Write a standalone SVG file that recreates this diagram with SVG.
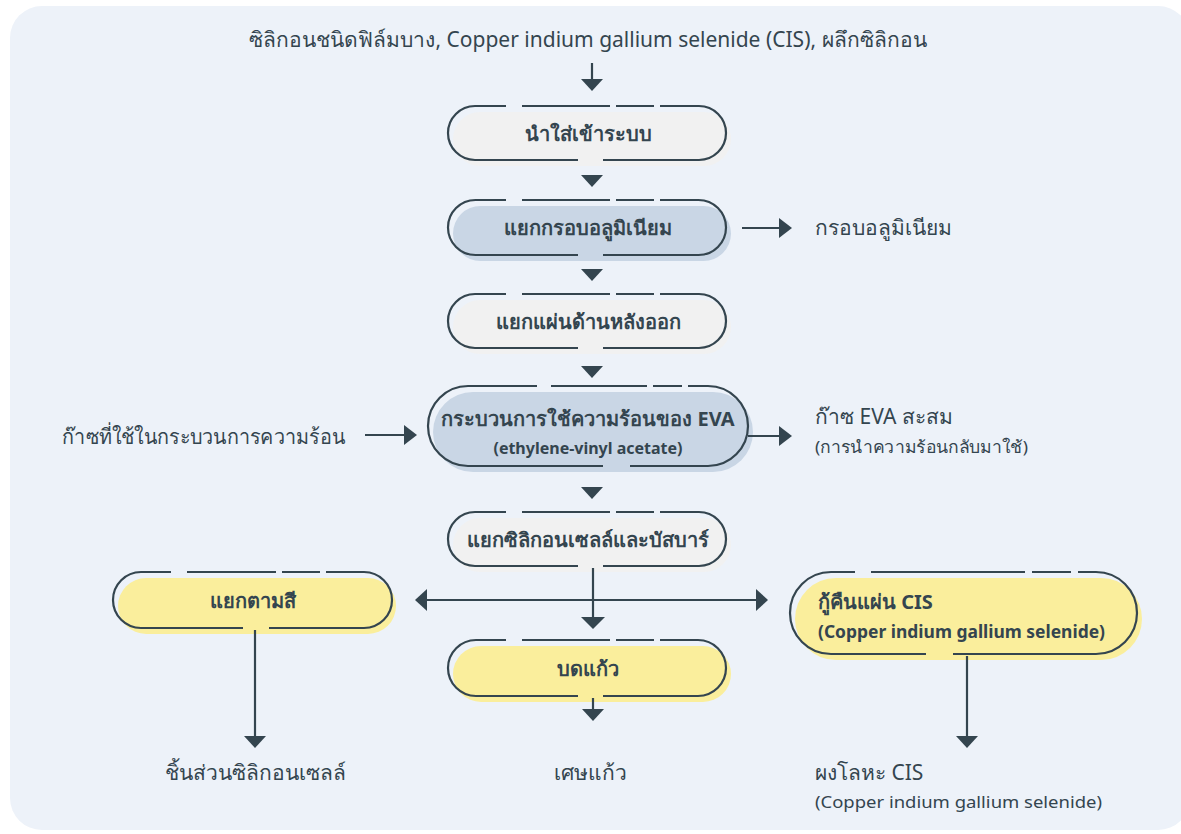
<svg xmlns="http://www.w3.org/2000/svg" width="1181" height="834" viewBox="0 0 1181 834">
<style>
.txt{font-family:"Noto Sans","Liberation Sans",sans-serif;fill:#34454F}
.lbl{font-size:21px}
.sub{font-size:17px}
.nt{font-size:20px;font-weight:bold;text-anchor:middle}
.ns{font-size:16px;font-weight:bold;text-anchor:middle}
.ol{fill:none;stroke:#34454F;stroke-width:2.2;stroke-linecap:butt}
.line{fill:none;stroke:#34454F;stroke-width:2.2}
.head{fill:#34454F}
.grey{fill:#F1F1F1}
.blue{fill:#C9D6E5}
.yel{fill:#FAEE9C}
</style>
<rect x="0" y="0" width="1181" height="834" fill="#FFFFFF"/>
<rect x="10" y="6" width="1180" height="824" rx="32" fill="#EDF2F9"/>

<text class="txt lbl" x="588" y="47" text-anchor="middle">ซิลิกอนชนิดฟิล์มบาง, Copper indium gallium selenide (CIS), ผลึกซิลิกอน</text>

<g id="n1">
<rect class="grey" x="453" y="112" width="278" height="54" rx="27"/>
<path class="ol" d="M506,106 H475 A27,27 0 0 0 475,160 H578 M603,160 H699 A27,27 0 0 0 699,106 H660 M654,106 H616 M610,106 H522"/>
<text class="txt nt" x="588" y="141">นำใส่เข้าระบบ</text>
</g>
<g id="n2">
<rect class="blue" x="453" y="206" width="278" height="55" rx="27.5"/>
<path class="ol" d="M506,200 H475.5 A27.5,27.5 0 0 0 475.5,255 H578 M603,255 H698.5 A27.5,27.5 0 0 0 698.5,200 H660 M654,200 H616 M610,200 H522"/>
<text class="txt nt" x="588" y="235">แยกกรอบอลูมิเนียม</text>
</g>
<g id="n3">
<rect class="grey" x="453" y="300" width="278" height="54" rx="27"/>
<path class="ol" d="M506,294 H475 A27,27 0 0 0 475,348 H578 M603,348 H699 A27,27 0 0 0 699,294 H660 M654,294 H616 M610,294 H522"/>
<text class="txt nt" x="588" y="329">แยกแผ่นด้านหลังออก</text>
</g>
<g id="n4">
<rect class="blue" x="433" y="392" width="320" height="80" rx="40"/>
<path class="ol" d="M537,386 H468 A40,40 0 0 0 468,466 H603 M630,466 H708 A40,40 0 0 0 708,386 H688 M682,386 H653 M647,386 H551"/>
<text class="txt nt" x="588" y="426">กระบวนการใช้ความร้อนของ EVA</text>
<text class="txt ns" x="588" y="454">(ethylene-vinyl acetate)</text>
</g>
<g id="n5">
<rect class="grey" x="453" y="518" width="278" height="54" rx="27"/>
<path class="ol" d="M506,512 H475 A27,27 0 0 0 475,566 H578 M603,566 H699 A27,27 0 0 0 699,512 H660 M654,512 H616 M610,512 H522"/>
<text class="txt nt" x="588" y="547">แยกซิลิกอนเซลล์และบัสบาร์</text>
</g>
<g id="n6">
<rect class="yel" x="118" y="578" width="278" height="56" rx="28"/>
<path class="ol" d="M171,572 H141 A28,28 0 0 0 141,628 H243 M269,628 H364 A28,28 0 0 0 364,572 H326 M320,572 H282 M276,572 H187"/>
<text class="txt nt" x="253" y="608">แยกตามสี</text>
</g>
<g id="n7">
<rect class="yel" x="453" y="646" width="278" height="56" rx="28"/>
<path class="ol" d="M506,640 H476 A28,28 0 0 0 476,696 H578 M603,696 H698 A28,28 0 0 0 698,640 H660 M654,640 H616 M610,640 H522"/>
<text class="txt nt" x="588" y="676">บดแก้ว</text>
</g>
<g id="n8">
<rect class="yel" x="795" y="578" width="347" height="82" rx="41"/>
<path class="ol" d="M855,572 H831 A41,41 0 0 0 831,654 H926 M953,654 H1096 A41,41 0 0 0 1096,572 H1078 M1071,572 H1032 M1025,572 H871"/>
<text class="txt" x="818" y="609" font-size="20" font-weight="bold">กู้คืนแผ่น CIS</text>
<text class="txt" x="818" y="638" font-size="17" font-weight="bold" textLength="287" lengthAdjust="spacingAndGlyphs">(Copper indium gallium selenide)</text>
</g>

<g id="labels">
<text class="txt lbl" x="815" y="235">กรอบอลูมิเนียม</text>
<text class="txt lbl" x="62" y="444" textLength="283" lengthAdjust="spacingAndGlyphs">ก๊าซที่ใช้ในกระบวนการความร้อน</text>
<text class="txt lbl" x="815" y="424">ก๊าซ EVA สะสม</text>
<text class="txt sub" x="815" y="453" textLength="213" lengthAdjust="spacingAndGlyphs">(การนำความร้อนกลับมาใช้)</text>
<text class="txt lbl" x="255" y="780" text-anchor="middle">ชิ้นส่วนซิลิกอนเซลล์</text>
<text class="txt lbl" x="590" y="780" text-anchor="middle">เศษแก้ว</text>
<text class="txt lbl" x="815" y="780">ผงโลหะ CIS</text>
<text class="txt sub" x="815" y="808" textLength="287" lengthAdjust="spacingAndGlyphs">(Copper indium gallium selenide)</text>
</g>

<g id="connectors">
<line class="line" x1="592" y1="63" x2="592" y2="80"/>
<polygon class="head" points="581,79 603,79 592,91"/>
<polygon class="head" points="581,175 603,175 592,187"/>
<polygon class="head" points="581,269 603,269 592,281"/>
<polygon class="head" points="581,366 603,366 592,378"/>
<polygon class="head" points="581,487 603,487 592,499"/>

<line class="line" x1="742" y1="228" x2="782" y2="228"/>
<polygon class="head" points="779,218 792,228 779,238"/>
<line class="line" x1="365" y1="435" x2="406" y2="435"/>
<polygon class="head" points="404,425 417,435 404,445"/>
<line class="line" x1="748" y1="436" x2="782" y2="436"/>
<polygon class="head" points="779,426 792,436 779,446"/>

<line class="line" x1="593" y1="568" x2="593" y2="620"/>
<polygon class="head" points="581,617 605,617 593,629"/>
<line class="line" x1="424" y1="600" x2="758" y2="600"/>
<polygon class="head" points="427,589 415,600 427,611"/>
<polygon class="head" points="756,589 768,600 756,611"/>

<line class="line" x1="255" y1="630" x2="255" y2="738"/>
<polygon class="head" points="244,736 266,736 255,748"/>
<line class="line" x1="593" y1="698" x2="593" y2="712"/>
<polygon class="head" points="582,709 604,709 593,721"/>
<line class="line" x1="967" y1="656" x2="967" y2="738"/>
<polygon class="head" points="956,736 978,736 967,748"/>
</g>
</svg>
